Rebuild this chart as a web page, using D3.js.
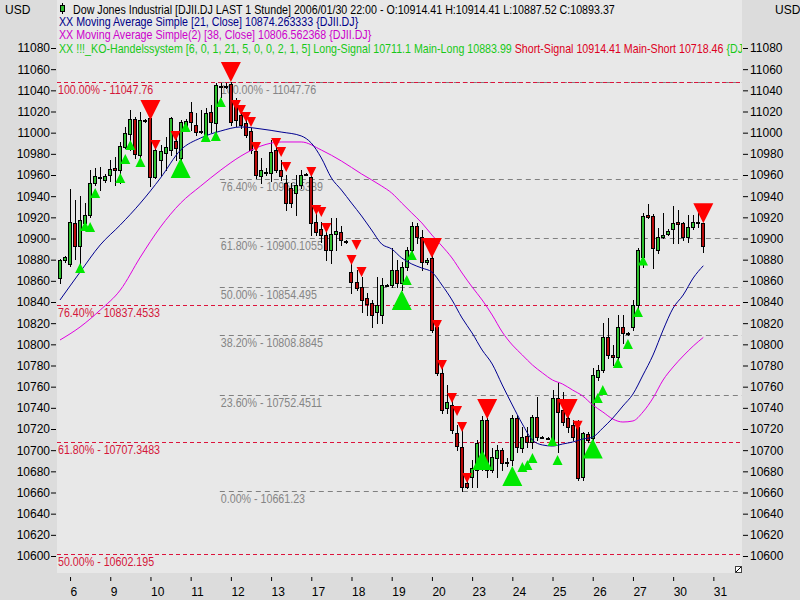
<!DOCTYPE html>
<html><head><meta charset="utf-8">
<script src="https://cdn.jsdelivr.net/npm/d3@7"></script>
<style>
body{margin:0;background:#dcdcdc;}
svg{display:block;font-family:"Liberation Sans",Arial,sans-serif;font-size:12px;}
</style></head><body>
<svg id="c" width="800" height="600"></svg>
<script>
// ---- data (hourly bars, DJII.DJ) ----
const opens=[10862.6,10879.7,10875.9,10914.7,10892.9,10914.7,10922.2,10952.5,10958.1,10955.3,
10960.0,10966.6,10964.7,10986.5,10998.7,11012.9,10978.9,11012.0,11013.9,10958.1,
10974.2,10980.8,10983.6,10992.1,10976.1,11004.4,11019.5,11007.2,11001.6,10995.9,
11019.5,11009.1,11044.1,11043.1,11046.0,11029.9,11016.7,11009.1,11001.6,10982.7,
10959.1,10962.8,10961.9,10983.6,10964.7,10952.5,10947.7,10943.0,10950.6,10961.0,
10958.1,10915.6,10909.0,10903.3,10889.1,10904.2,10906.1,10897.6,10868.3,10858.9,
10854.2,10843.8,10839.0,10830.5,10827.7,10856.0,10856.0,10870.2,10857.9,10873.1,
10889.1,10911.8,10901.4,10877.8,10881.6,10816.4,10772.9,10739.8,10742.7,10716.2,
10703.0,10668.9,10674.6,10681.3,10684.1,10728.5,10681.3,10692.6,10700.2,10688.8,
10690.7,10730.4,10702.0,10713.4,10707.7,10731.3,10712.4,10711.5,10707.7,10749.3,
10737.9,10730.4,10723.8,10721.9,10674.6,10715.2,10711.5,10769.1,10775.7,10806.9,
10789.9,10788.0,10816.4,10810.7,10816.4,10837.2,10882.5,10922.2,10921.3,10889.1,
10901.4,10904.2,10909.0,10915.6,10914.7,10901.4,10910.9,10915.6,10914.41];
const highs=[10880.6,10883.4,10946.8,10936.4,10940.2,10933.5,10964.7,10966.6,10967.6,10961.0,
10974.2,10977.0,10991.2,11005.4,11021.4,11014.8,11019.5,11012.9,11016.7,10993.1,
10988.4,10995.9,11014.8,11000.6,11012.0,11012.9,11029.0,11018.6,11021.4,11023.3,
11026.1,11046.9,11046.9,11046.9,11047.76,11032.8,11023.3,11013.9,11004.4,10985.5,
10976.1,10966.6,10993.1,10988.4,10974.2,10960.0,10952.5,10960.0,10964.7,10961.9,
10962.8,10924.1,10915.6,10911.8,10919.4,10919.4,10911.8,10898.6,10877.8,10870.2,
10863.6,10848.5,10841.9,10863.6,10862.7,10857.0,10891.0,10879.7,10877.8,10891.9,
10915.6,10914.7,10908.0,10881.6,10893.9,10823.0,10783.3,10761.6,10749.3,10723.8,
10719.0,10673.7,10690.7,10709.6,10732.3,10730.4,10702.0,10704.9,10702.0,10692.6,
10733.2,10733.2,10721.9,10721.9,10733.2,10750.2,10713.4,10712.4,10756.8,10763.5,
10755.0,10736.1,10728.5,10728.5,10717.1,10717.1,10777.6,10780.5,10820.2,10824.9,
10799.4,10827.7,10827.7,10811.6,10841.9,10891.0,10924.1,10932.6,10923.1,10909.9,
10924.1,10909.0,10930.7,10926.9,10915.6,10922.2,10922.2,10924.1,10914.41];
const lows=[10858.0,10877.8,10874.0,10880.6,10870.2,10912.8,10920.3,10950.6,10945.8,10953.4,
10954.3,10950.6,10952.5,10985.5,10983.6,10976.1,10974.2,11010.1,10949.6,10957.2,
10960.0,10964.7,10978.9,10974.2,10974.2,11002.5,11002.5,10997.8,10999.7,10995.0,
11000.6,11000.6,11033.7,11042.2,11007.2,11006.3,11004.4,10995.9,10980.8,10957.2,
10952.5,10960.0,10954.3,10962.8,10955.3,10926.9,10929.8,10922.2,10947.7,10960.0,
10903.3,10903.3,10896.7,10879.7,10876.8,10889.1,10893.9,10895.7,10848.5,10851.3,
10830.5,10827.7,10816.4,10820.2,10820.2,10855.1,10854.2,10854.2,10851.3,10870.2,
10886.3,10895.7,10870.2,10875.9,10811.6,10771.0,10735.1,10735.1,10716.2,10700.2,
10661.23,10664.2,10665.2,10665.2,10681.3,10674.6,10679.4,10674.6,10681.3,10685.0,
10686.0,10698.3,10698.3,10703.0,10702.0,10709.6,10711.5,10710.5,10704.9,10698.3,
10723.8,10717.1,10709.6,10671.8,10671.8,10707.7,10709.6,10766.3,10773.8,10787.1,
10780.5,10785.2,10801.3,10808.8,10813.5,10832.4,10873.1,10919.4,10872.1,10886.3,
10900.5,10903.3,10895.7,10895.7,10898.6,10896.7,10909.0,10911.2,10887.52];
const closes=[10879.7,10882.6,10915.6,10892.9,10917.5,10922.2,10952.5,10959.1,10957.2,10959.1,
10965.7,10964.7,10987.4,10999.7,11012.9,10979.8,11012.0,11011.0,10958.1,10983.6,
10982.7,10986.5,11013.9,10985.5,11010.1,11011.0,11010.1,11000.6,11000.6,11018.6,
11010.1,11045.0,11043.1,11044.1,11010.1,11012.0,11007.2,10997.8,10983.6,10960.0,
10964.7,10962.4,10981.7,10964.7,10959.1,10933.5,10933.5,10950.6,10960.0,10960.5,
10914.7,10906.1,10903.3,10889.1,10904.2,10907.1,10898.6,10896.7,10858.9,10853.2,
10841.9,10838.1,10827.7,10837.2,10856.0,10855.6,10870.2,10857.9,10873.1,10889.1,
10911.8,10901.4,10877.8,10879.7,10813.5,10772.9,10737.9,10745.5,10719.0,10703.9,
10665.2,10665.2,10683.1,10706.8,10728.5,10681.3,10693.5,10700.2,10687.9,10688.3,
10730.4,10703.0,10712.4,10707.7,10731.3,10712.4,10711.9,10711.0,10749.3,10736.1,
10726.6,10721.9,10712.4,10673.7,10716.2,10709.6,10771.0,10775.7,10806.9,10789.9,
10788.0,10816.4,10810.7,10809.8,10837.2,10889.1,10921.3,10920.3,10891.0,10901.4,
10903.3,10907.1,10914.7,10913.7,10901.4,10910.9,10915.6,10915.1,10893.37];

// moving averages
const ma21Idx=[0,4,8,12,16,20,24,28,32,36,40,44,48,50,52,54,56,58,60,62,64,66,68,70,72,74,76,78,80,82,84,86,88,90,92,94,96,98,100,102,104,106,108,110,112,114,116,118,120,122,124,126,128];
const ma21=[10841.9,10868.3,10893.9,10912.8,10933.5,10957.2,10983.6,10995.0,11001.6,11005.4,11003.5,11000.6,10996.9,10990.2,10976.1,10957.2,10945.8,10933.5,10921.3,10908.0,10894.8,10890.1,10881.6,10875.9,10872.1,10868.3,10856.0,10841.9,10824.9,10810.7,10794.6,10781.4,10761.6,10742.7,10724.7,10709.6,10704.9,10703.9,10705.8,10707.7,10710.5,10712.4,10720.9,10730.4,10741.7,10753.0,10771.0,10789.9,10813.5,10834.3,10846.6,10862.7,10874.26];
const ma38Idx=[0,4,8,12,16,20,24,28,32,36,40,44,48,52,56,60,64,66,68,70,72,74,76,78,80,82,84,86,88,90,92,94,96,98,100,102,104,106,108,110,112,114,116,118,120,122,124,126,128];
const ma38=[10804.1,10816.4,10832.4,10851.3,10882.5,10910.9,10933.5,10949.6,10964.7,10977.9,10987.4,10991.2,10991.2,10983.6,10973.2,10961.0,10949.6,10943.0,10933.5,10924.1,10914.7,10903.3,10892.9,10881.6,10867.4,10854.2,10841.9,10827.7,10811.6,10799.4,10789.9,10780.5,10773.0,10766.3,10762.5,10756.8,10751.2,10742.7,10736.1,10729.4,10726.6,10727.6,10736.1,10749.3,10766.3,10778.6,10789.0,10798.4,10806.56];

// trading system signals
const longIdx=[4,5,6,7,12,13,14,16,24,25,29,31,32,68,69,70,84,90,92,93,94,98,99,106,107,108,111,113,115,116];
const longPx=[10876.9,10916.5,10915.6,10947.7,10961.9,10979.8,10993.1,10977.0,10976.1,11010.1,11000.6,11001.6,11033.7,10851.3,10865.5,10889.1,10700.2,10685.0,10688.8,10690.7,10697.3,10713.4,10695.4,10711.1,10754.0,10761.6,10787.1,10805.0,10835.3,10883.99];
const longMain=[0,0,0,0,0,0,0,0,1,0,0,0,0,1,0,0,1,1,0,0,0,0,0,1,0,0,0,0,0,0];
const shortIdx=[18,19,23,34,35,36,37,38,39,43,44,45,50,51,52,53,58,59,60,74,75,76,78,79,80,81,85,101,103,128];
const shortPx=[11012.0,10983.6,10992.1,11047.76,11021.4,11016.7,11010.1,11005.4,10981.7,10985.5,10977.0,10962.8,10958.1,10922.2,10920.3,10905.2,10875.0,10889.1,10863.6,10881.6,10813.5,10775.7,10744.6,10732.3,10717.1,10668.9,10729.4,10729.4,10718.46,10914.41];
const shortMain=[1,0,0,1,0,0,0,0,0,0,0,0,0,0,0,0,0,0,0,1,0,0,0,0,0,0,1,1,0,1];

// fibonacci levels
const fibRedPct=["100.00%","76.40%","61.80%","50.00%"];
const fibRedVal=["11047.76","10837.4533","10707.3483","10602.195"];
const fibGrayPct=["100.00%","76.40%","61.80%","50.00%","38.20%","23.60%","0.00%"];
const fibGrayVal=["11047.76","10956.5389","10900.1055","10854.495","10808.8845","10752.4511","10661.23"];
const fibGrayStart=32;

// axes
const dayIdx=[2,10,18,26,34,42,50,58,66,74,82,90,98,106,114,122,130];
const dayLabels=["6","9","10","11","12","13","17","18","19","20","23","24","25","26","27","30","31"];
const yTicks=d3.range(10600,11081,20);

// ---- drawing ----
const svg=d3.select("#c");
const P={l:57,r:742,t:0,b:573};
const SX=0.89; // narrow system font look
svg.append("rect").attr("width",800).attr("height",600).attr("fill","#dcdcdc");
svg.append("rect").attr("x",P.l).attr("y",P.t).attr("width",P.r-P.l).attr("height",P.b-P.t).attr("fill","#e8e8e8");
const defs=svg.append("defs");
defs.append("clipPath").attr("id","pc").append("rect").attr("x",P.l).attr("y",P.t).attr("width",P.r-P.l).attr("height",P.b-P.t);

const x=d3.scaleLinear().domain([0,128]).range([60,703.3]);
const y=d3.scaleLinear().domain([10600,11080]).range([556,48]);
const cr=v=>Math.round(v)+0.5;
const narrowText=(sel,tx,ty)=>sel.append("text").attr("transform",`translate(${tx},${ty}) scale(${SX},1)`);

const g=svg.append("g").attr("clip-path","url(#pc)");

// gray fib lines
fibGrayVal.forEach((v,i)=>{
  const yy=cr(y(+v));
  g.append("line").attr("x1",x(fibGrayStart)-1).attr("x2",P.r).attr("y1",yy).attr("y2",yy)
    .attr("stroke","#808080").attr("stroke-dasharray","5,4");
  narrowText(g,x(fibGrayStart),yy+11.5).attr("fill","#858585").text(fibGrayPct[i]+" - "+v);
});
// red fib lines
fibRedVal.forEach((v,i)=>{
  const yy=cr(y(+v));
  g.append("line").attr("x1",P.l).attr("x2",P.r).attr("y1",yy).attr("y2",yy)
    .attr("stroke","#dc143c").attr("stroke-dasharray","4,3");
  narrowText(g,P.l+1,yy+11.5).attr("fill","#d4173a").text(fibRedPct[i]+" - "+v);
});

// candles
const bars=d3.range(opens.length);
const cg=g.append("g");
cg.selectAll("line.w").data(bars).join("line")
  .attr("x1",i=>cr(x(i))).attr("x2",i=>cr(x(i)))
  .attr("y1",i=>Math.round(y(highs[i]))).attr("y2",i=>Math.round(y(lows[i]))+1)
  .attr("stroke","#000");
cg.selectAll("rect").data(bars).join("rect")
  .attr("x",i=>Math.round(x(i))-1.5).attr("width",3)
  .attr("y",i=>cr(y(Math.max(opens[i],closes[i]))))
  .attr("height",i=>Math.max(1,Math.round(y(Math.min(opens[i],closes[i])))-Math.round(y(Math.max(opens[i],closes[i])))))
  .attr("fill",i=>closes[i]>=opens[i]?"#2fbf2f":"#b80a0a")
  .attr("stroke","#000");

// moving averages
const line=d3.line().x(d=>x(d[0])).y(d=>y(d[1])).curve(d3.curveMonotoneX);
g.append("path").attr("d",line(ma38Idx.map((d,i)=>[d,ma38[i]]))).attr("fill","none").attr("stroke","#e000e0").attr("stroke-width",1);
g.append("path").attr("d",line(ma21Idx.map((d,i)=>[d,ma21[i]]))).attr("fill","none").attr("stroke","#000090").attr("stroke-width",1);

// signals
const tri=(cx,ay,s,dir)=>`M${cx},${ay}L${cx-s/2},${ay+dir*s}L${cx+s/2},${ay+dir*s}Z`;
g.selectAll("path.l").data(longIdx).join("path").attr("class","l")
  .attr("d",(d,i)=>{const s=longMain[i]?20:10;return tri(x(d),y(longPx[i]),s,1);})
  .attr("fill","#00e800");
g.selectAll("path.s").data(shortIdx).join("path").attr("class","s")
  .attr("d",(d,i)=>{const s=shortMain[i]?20:10;return tri(x(d),y(shortPx[i]),s,-1);})
  .attr("fill","#ff0000");

// axes
const yl=svg.append("g").attr("transform","translate(56,0)")
  .call(d3.axisLeft(y).tickValues(yTicks).tickSize(5).tickPadding(1).tickFormat(d3.format("d")));
const yr=svg.append("g").attr("transform","translate(743,0)")
  .call(d3.axisRight(y).tickValues(yTicks).tickSize(5).tickPadding(2).tickFormat(d3.format("d")));
const xb=svg.append("g").attr("transform","translate(0,577)")
  .call(d3.axisBottom(x).tickValues(dayIdx).tickSize(4).tickPadding(6).tickFormat((d,i)=>dayLabels[i]));
[yl,yr,xb].forEach(a=>{
  a.select(".domain").remove();
  a.attr("font-family",null).attr("font-size",null);
  a.selectAll("text").attr("fill","#000");
  a.selectAll("line").attr("stroke","#000");
});
xb.selectAll("text").attr("text-anchor","start");

svg.append("text").attr("x",5).attr("y",13.5).text("USD");
svg.append("text").attr("x",775).attr("y",13.5).text("USD");

// legend
const lg=svg.append("g").attr("clip-path","url(#pc)").style("white-space","pre");
lg.append("line").attr("x1",62.5).attr("x2",62.5).attr("y1",3).attr("y2",14).attr("stroke","#000");
lg.append("rect").attr("x",60.5).attr("y",5.5).attr("width",4).attr("height",6).attr("fill","#2fbf2f").attr("stroke","#000");
narrowText(lg,73,13.5).attr("fill","#000")
  .text("Dow Jones Industrial [DJII.DJ LAST 1 Stunde] 2006/01/30 22:00 - O:10914.41 H:10914.41 L:10887.52 C:10893.37");
narrowText(lg,59,26).attr("fill","#000088")
  .text("XX Moving Average Simple [21, Close] 10874.263333 {DJII.DJ}");
narrowText(lg,59,38.5).attr("fill","#cc00cc")
  .text("XX Moving Average Simple(2) [38, Close] 10806.562368 {DJII.DJ}");
const t4=narrowText(lg,59,52.5);
t4.append("tspan").attr("fill","#18c818").text("XX !!!_KO-Handelssystem [6, 0, 1, 21, 5, 0, 0, 2, 1, 5] Long-Signal 10711.1 Main-Long 10883.99 ");
t4.append("tspan").attr("fill","#dd0022").text("Short-Signal 10914.41 Main-Short 10718.46 ");
t4.append("tspan").attr("fill","#18c818").text("{DJI");

// corner icon
svg.append("rect").attr("x",735.5).attr("y",566.5).attr("width",6).attr("height",6).attr("fill","#fff").attr("stroke","#444");
svg.append("line").attr("x1",736).attr("y1",572).attr("x2",741).attr("y2",567).attr("stroke","#000");
</script>
</body></html>
